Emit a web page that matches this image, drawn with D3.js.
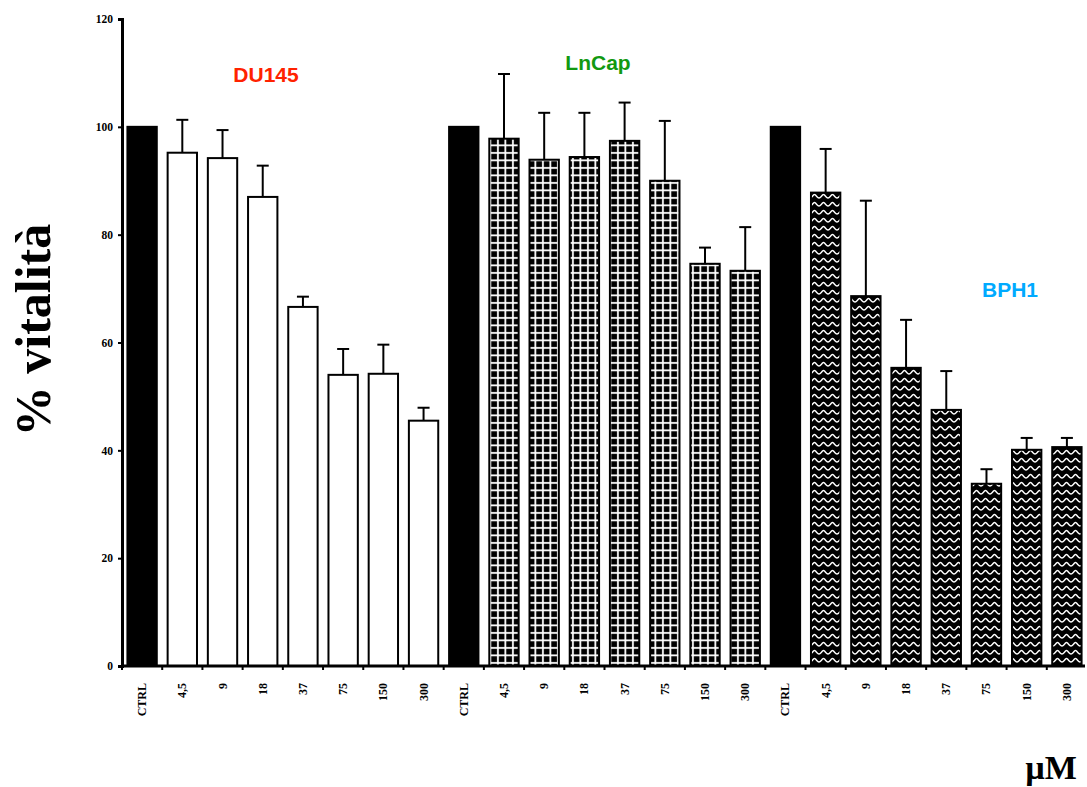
<!DOCTYPE html>
<html><head><meta charset="utf-8">
<script src="https://cdn.jsdelivr.net/npm/d3@7"></script>
<style>body{margin:0;background:#fff}</style>
</head><body>
<svg id="c" width="1087" height="787"></svg>
<script>
const doses = ["CTRL","4,5","9","18","37","75","150","300"];
const groups = ["DU145","LnCap","BPH1"];
const du145 = [100,95.2,94.2,87.0,66.6,54.0,54.2,45.5];
const du145Err = [0,6.1,5.2,5.8,1.9,4.8,5.4,2.4];
const lncap = [100,97.8,93.9,94.4,97.4,90.0,74.6,73.3];
const lncapErr = [0,12.0,8.7,8.2,7.1,11.1,3.0,8.1];
const bph1 = [100,87.8,68.6,55.3,47.5,33.8,40.1,40.6];
const bph1Err = [0,8.1,17.7,8.9,7.2,2.7,2.2,1.7];
const yTicks = [0,20,40,60,80,100,120];
const groupColors = ["#ff2200","#119911","#00aaff"];

const svg = d3.select("#c");
const defs = svg.append("defs");
// grid pattern
const pg = defs.append("pattern").attr("id","grid").attr("patternUnits","userSpaceOnUse")
  .attr("width",7.5).attr("height",7.5);
pg.append("rect").attr("width",7.5).attr("height",7.5).attr("fill","#000");
pg.append("rect").attr("x",0).attr("y",2).attr("width",7.5).attr("height",1.8).attr("fill","#fff");
pg.append("rect").attr("x",2).attr("y",0).attr("width",1.8).attr("height",7.5).attr("fill","#fff");
// zigzag pattern
const pz = defs.append("pattern").attr("id","zig").attr("patternUnits","userSpaceOnUse")
  .attr("width",9).attr("height",8);
pz.append("rect").attr("width",9).attr("height",8).attr("fill","#000");
pz.append("path").attr("d","M-2.25,4.5 Q-1,6 0,6 Q1,6 2.25,4.5 L3.5,3 Q4.5,2 5.5,3 L6.75,4.5 Q8,6 9,6 Q10,6 11.25,4.5")
  .attr("fill","none").attr("stroke","#fff").attr("stroke-width",1.4).attr("stroke-linejoin","round");

const all = [];
[du145,lncap,bph1].forEach((arr,g)=>{
  const errs=[du145Err,lncapErr,bph1Err][g];
  arr.forEach((v,i)=>all.push({key:g+"-"+i,g,i,dose:doses[i],v,e:errs[i]}));
});

const x = d3.scaleBand().domain(all.map(d=>d.key)).range([122,1087]).paddingInner(0.27).paddingOuter(0.135);
const y = d3.scaleLinear().domain([0,120]).range([666,19]);

function fillFor(d){
  if(d.i===0) return "#000";
  return d.g===0?"#fff":(d.g===1?"url(#grid)":"url(#zig)");
}

// bars
svg.append("g").selectAll("rect").data(all).join("rect")
  .attr("x",d=>x(d.key)).attr("width",x.bandwidth())
  .attr("y",d=>y(d.v)).attr("height",d=>y(0)-y(d.v))
  .attr("fill",fillFor).attr("stroke","#000").attr("stroke-width",2);

// error bars
const eb = svg.append("g").attr("stroke","#000").attr("stroke-width",2);
all.filter(d=>d.e>0).forEach(d=>{
  const cx = x(d.key)+x.bandwidth()/2;
  eb.append("line").attr("x1",cx).attr("x2",cx).attr("y1",y(d.v)).attr("y2",y(d.v+d.e));
  eb.append("line").attr("x1",cx-6).attr("x2",cx+6).attr("y1",y(d.v+d.e)).attr("y2",y(d.v+d.e));
});

// y axis
const yAxis = d3.axisLeft(y).tickValues(yTicks).tickSize(4).tickFormat(d3.format("d"));
const ya = svg.append("g").attr("transform","translate(122,0)").call(yAxis);
ya.select(".domain").attr("stroke-width",3);
ya.selectAll(".tick line").attr("stroke-width",2);
ya.selectAll("text").attr("font-family","Liberation Serif, serif").attr("font-weight","bold")
  .attr("font-size",11.5).attr("x",-9);

// x axis
const xa = svg.append("g").attr("transform","translate(0,666)");
xa.append("line").attr("x1",122).attr("x2",1085).attr("y1",0).attr("y2",0).attr("stroke","#000").attr("stroke-width",3);
const step = x.step();
const boundaries = d3.range(all.length).map(k=>x(all[k].key)-x.paddingInner()*step/2);
xa.selectAll(".bt").data(boundaries).join("line").attr("class","bt")
  .attr("x1",d=>d).attr("x2",d=>d).attr("y1",0).attr("y2",4).attr("stroke","#000").attr("stroke-width",2);
xa.selectAll(".lbl").data(all).join("text").attr("class","lbl")
  .attr("transform",d=>`translate(${x(d.key)+x.bandwidth()/2+4},17) rotate(-90)`)
  .attr("text-anchor","end")
  .attr("font-family","Liberation Serif, serif").attr("font-weight","bold").attr("font-size",12)
  .text(d=>d.dose);

// group titles
const titlePos = [[266,82],[598,70],[1010,297]];
groups.forEach((g,k)=>{
  svg.append("text").attr("x",titlePos[k][0]).attr("y",titlePos[k][1]).attr("text-anchor","middle")
    .attr("font-family","Liberation Sans, Arial, sans-serif").attr("font-weight","bold").attr("font-size",21)
    .attr("fill",groupColors[k]).text(g);
});

// axis titles
svg.append("text").attr("transform","translate(50,330) rotate(-90)").attr("text-anchor","middle")
  .attr("font-family","Liberation Serif, serif").attr("font-weight","bold").attr("font-size",50)
  .text("% vitalità");
svg.append("text").attr("x",1051).attr("y",779).attr("text-anchor","middle")
  .attr("font-family","Liberation Serif, serif").attr("font-weight","bold").attr("font-size",34)
  .text("µM");
</script>
</body></html>
